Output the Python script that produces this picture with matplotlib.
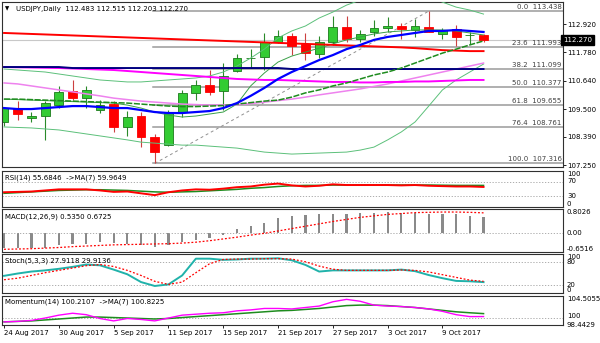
import matplotlib
matplotlib.use('Agg')
import matplotlib.pyplot as plt
import numpy as np

plt.rcParams.update({'font.family': 'DejaVu Sans', 'font.size': 5})

# --- USDJPY daily candles ---
opens = [108.98, 109.54, 109.14, 109.22, 109.66, 110.23, 109.94, 109.46, 109.70, 108.78,
         109.22, 108.38, 108.05, 109.38, 110.15, 110.47, 110.23, 111.03, 111.55, 111.59,
         112.20, 112.44, 112.12, 111.71, 112.20, 112.80, 112.32, 112.60, 112.76, 112.84,
         112.68, 112.80, 112.52, 112.72, 112.46, 112.483]
highs = [109.60, 109.82, 109.38, 109.82, 110.43, 110.67, 110.43, 109.86, 109.82, 109.42,
         109.38, 108.50, 109.46, 110.27, 110.67, 111.07, 111.35, 111.71, 111.91, 112.56,
         112.68, 112.56, 112.56, 112.44, 113.24, 113.24, 112.68, 113.08, 113.20, 112.96,
         113.12, 113.438, 112.76, 112.88, 112.60, 112.515]
lows = [108.82, 109.06, 108.98, 108.26, 109.54, 109.86, 109.54, 109.34, 108.58, 108.42,
        107.97, 107.316, 108.01, 109.18, 109.86, 110.07, 109.46, 110.99, 111.15, 111.07,
        112.16, 111.67, 111.47, 111.55, 112.08, 112.20, 112.20, 112.44, 112.60, 112.32,
        112.40, 112.58, 112.32, 112.04, 112.12, 112.203]
closes = [109.54, 109.30, 109.22, 109.74, 110.19, 109.94, 110.27, 109.66, 108.78, 109.18,
          108.38, 107.77, 109.34, 110.15, 110.47, 110.19, 110.83, 111.55, 111.57, 112.20,
          112.44, 112.04, 111.75, 112.20, 112.80, 112.32, 112.52, 112.76, 112.84, 112.72,
          112.84, 112.60, 112.68, 112.40, 112.48, 112.270]

date_ticks = [0, 4, 8, 12, 16, 20, 24, 28, 32]
date_labels = ['24 Aug 2017', '30 Aug 2017', '5 Sep 2017', '11 Sep 2017', '15 Sep 2017',
               '21 Sep 2017', '27 Sep 2017', '3 Oct 2017', '9 Oct 2017']

# --- overlays on price ---
ma_blue = [109.54, 109.50, 109.50, 109.54, 109.58, 109.62, 109.62, 109.58, 109.54, 109.54,
           109.46, 109.38, 109.34, 109.34, 109.38, 109.42, 109.54, 109.74, 110.03, 110.35,
           110.71, 110.99, 111.23, 111.47, 111.67, 111.91, 112.08, 112.28, 112.40, 112.48,
           112.56, 112.64, 112.64, 112.68, 112.64, 112.60]
ma_green = [109.90, 109.90, 109.88, 109.86, 109.84, 109.82, 109.80, 109.78, 109.76, 109.74,
            109.70, 109.66, 109.62, 109.60, 109.60, 109.62, 109.64, 109.70, 109.76, 109.82,
            109.86, 109.98, 110.15, 110.27, 110.43, 110.55, 110.71, 110.87, 110.99, 111.15,
            111.35, 111.55, 111.75, 111.91, 112.08, 112.24]
ma_red = [112.56, 112.54, 112.52, 112.50, 112.48, 112.46, 112.44, 112.42, 112.40, 112.38,
          112.36, 112.34, 112.32, 112.30, 112.28, 112.26, 112.24, 112.22, 112.20, 112.18,
          112.16, 112.14, 112.12, 112.10, 112.08, 112.06, 112.04, 112.02, 112.00, 111.98,
          111.95, 111.91, 111.87, 111.85, 111.83, 111.83]
ma_navy = [111.19] * 5 + [111.15] * 16 + [111.11] * 15
ma_magenta = [111.19, 111.18, 111.17, 111.16, 111.15, 111.13, 111.11, 111.09, 111.07, 111.03,
              110.99, 110.95, 110.91, 110.87, 110.83, 110.79, 110.75, 110.71, 110.69, 110.67,
              110.67, 110.65, 110.63, 110.61, 110.59, 110.59, 110.57, 110.57, 110.59, 110.59,
              110.61, 110.61, 110.63, 110.65, 110.67, 110.67]
ma_violet = [110.55, 110.51, 110.43, 110.35, 110.27, 110.19, 110.11, 110.03, 109.94, 109.88,
             109.82, 109.78, 109.74, 109.70, 109.68, 109.66, 109.66, 109.68, 109.72, 109.78,
             109.84, 109.90, 109.98, 110.07, 110.15, 110.23, 110.31, 110.41, 110.51, 110.63,
             110.75, 110.87, 110.99, 111.11, 111.23, 111.35]
bb_upper = [111.11, 111.07, 111.03, 110.99, 110.91, 110.83, 110.75, 110.67, 110.63, 110.59,
            110.59, 110.63, 110.67, 110.71, 110.75, 110.83, 110.99, 111.23, 111.55, 111.91,
            112.36, 112.64, 112.84, 113.16, 113.40, 113.68, 113.88, 114.05, 114.13, 114.13,
            114.09, 114.01, 113.80, 113.60, 113.48, 113.32]
bb_mid = [109.90, 109.88, 109.86, 109.84, 109.82, 109.80, 109.78, 109.76, 109.74, 109.66,
          109.54, 109.38, 109.26, 109.18, 109.22, 109.30, 109.38, 109.70, 110.43, 110.95,
          111.39, 111.63, 111.79, 111.95, 112.12, 112.28, 112.40, 112.52, 112.60, 112.64,
          112.68, 112.68, 112.68, 112.64, 112.56, 112.48]
bb_lower = [108.78, 108.76, 108.74, 108.70, 108.66, 108.58, 108.50, 108.42, 108.34, 108.26,
            108.17, 108.13, 108.09, 108.05, 108.05, 108.01, 107.97, 107.93, 107.85, 107.77,
            107.73, 107.69, 107.71, 107.73, 107.75, 107.77, 107.85, 107.97, 108.26, 108.58,
            108.98, 109.62, 110.27, 110.67, 110.99, 111.31]

# Fibonacci retracement 5 Sep low -> 3 Oct high
fib_pct = ['0.0', '23.6', '38.2', '50.0', '61.8', '76.4', '100.0']
fib_price = [113.438, 111.993, 111.099, 110.377, 109.655, 108.761, 107.316]
fib_low_idx, fib_high_idx = 11, 31

price_ticks = [112.920, 111.780, 110.640, 109.500, 108.390, 107.250]

# --- oscillators ---
rsi = [41, 42, 43, 46, 49, 49, 49, 46, 42, 43, 38, 33, 41, 46, 49, 48, 51, 55, 57, 62,
       65, 60, 57, 59, 63, 61, 61, 61, 61, 60, 61, 59, 58, 57, 57, 55.6846]
rsi_ma = [38, 40, 42, 44, 46, 47, 48, 48, 47, 46, 44, 42, 41, 42, 43, 45, 47, 49, 52, 54,
          57, 59, 60, 60, 61, 61, 61, 61, 61, 61, 61, 61, 60.5, 60, 60, 59.9649]
macd = [-0.50, -0.51, -0.53, -0.51, -0.42, -0.39, -0.37, -0.30, -0.36, -0.39, -0.43, -0.49,
        -0.42, -0.30, -0.23, -0.17, -0.06, 0.11, 0.22, 0.33, 0.50, 0.56, 0.59, 0.62, 0.64,
        0.64, 0.67, 0.67, 0.69, 0.67, 0.67, 0.65, 0.64, 0.62, 0.56, 0.5350]
macd_sig = [-0.56, -0.55, -0.54, -0.52, -0.50, -0.47, -0.45, -0.43, -0.41, -0.40, -0.39,
            -0.38, -0.37, -0.35, -0.32, -0.27, -0.21, -0.15, -0.08, -0.02, 0.06, 0.14, 0.22,
            0.30, 0.38, 0.45, 0.52, 0.57, 0.62, 0.65, 0.68, 0.69, 0.70, 0.70, 0.69, 0.6725]
stoch_k = [44, 50, 55, 58, 62, 67, 73, 71, 60, 48, 28, 18, 22, 45, 88, 88, 85, 86, 88, 88,
           89, 84, 72, 55, 58, 58, 58, 58, 58, 60, 56, 46, 38, 31, 30, 27.9118]
stoch_d = [34, 38, 45, 52, 58, 64, 70, 73, 68, 58, 45, 30, 22, 28, 52, 75, 86, 87, 87, 88,
           88, 87, 80, 69, 61, 58, 58, 58, 58, 59, 58, 54, 47, 40, 33, 29.9136]
mom = [99.1, 99.2, 99.4, 99.9, 100.5, 100.9, 100.6, 99.8, 99.3, 99.8, 99.6, 99.3, 99.9,
       100.5, 100.7, 100.9, 101.0, 101.4, 101.6, 101.9, 101.9, 101.8, 102.1, 102.4, 103.3,
       103.8, 103.4, 102.6, 102.4, 102.3, 102.1, 101.8, 101.3, 100.6, 100.2, 100.2107]
mom_ma = [99.1, 99.2, 99.3, 99.5, 99.7, 99.9, 100.1, 100.1, 100.0, 99.9, 99.8, 99.7, 99.8,
          100.0, 100.2, 100.4, 100.6, 100.8, 101.0, 101.2, 101.4, 101.5, 101.7, 101.9, 102.2,
          102.5, 102.6, 102.6, 102.5, 102.3, 102.1, 101.8, 101.5, 101.2, 101.0, 100.8225]

W, H = 600, 343
fig = plt.figure(figsize=(6, 3.43), dpi=100)
fig.patch.set_facecolor('white')


def panel(top, bottom):
    ax = fig.add_axes([2 / W, 1 - bottom / H, 561 / W, (bottom - top) / H])
    ax.set_xlim(-0.15, 40.8)
    for s in ax.spines.values():
        s.set_linewidth(0.8)
        s.set_color('#303030')
    ax.tick_params(left=False, labelleft=False, bottom=False, labelbottom=False,
                   right=False, labelright=False)
    return ax


def side_label(ax, y, txt, va='center'):
    ax.text(1.007, y, txt, transform=ax.get_yaxis_transform(), ha='left', va=va,
            fontsize=5, clip_on=False)


def caption(ax, txt):
    ax.text(0.006, 0.9, txt, transform=ax.transAxes, ha='left', va='top', fontsize=5)


x = np.arange(len(closes))

# ---------------- price panel ----------------
ax = panel(2, 167)
ax.set_ylim(107.17, 113.805)

for p in fib_price:
    ax.plot([fib_low_idx - 0.1, 40.8], [p, p], color='#9a9a9a', lw=1.1, zorder=1)
for pct, p in zip(fib_pct, fib_price):
    ax.text(40.7, p + 0.04, f'{pct}  {p:.3f}', ha='right', va='bottom', fontsize=5,
            color='#404040', zorder=2)
ax.plot([fib_low_idx, fib_high_idx], [fib_price[-1], fib_price[0]], color='#909090',
        lw=0.7, ls=(0, (3, 3)), zorder=1)
ax.axhline(closes[-1], color='#c8c8c8', lw=0.8, zorder=1)

for i, (o, h, l, c) in enumerate(zip(opens, highs, lows, closes)):
    up = c >= o
    ax.vlines(i, l, h, color='#2a8a2a' if up else '#cc4040', lw=0.8, zorder=2)
    ax.bar(i, max(abs(c - o), 0.012), bottom=min(o, c), width=0.64,
           color='#33cc33' if up else '#ff0000',
           edgecolor='#1b7a1b' if up else '#ff0000', lw=0.6, zorder=2.5)

ax.plot(x, bb_upper, color='#5cc07a', lw=0.7, zorder=3)
ax.plot(x, bb_lower, color='#5cc07a', lw=0.7, zorder=3)
ax.plot(x, bb_mid, color='#3aa048', lw=0.7, zorder=3)
ax.plot(x, ma_violet, color='#ee82ee', lw=1.1, zorder=3)
ax.plot(x, ma_magenta, color='#ff00ff', lw=1.4, zorder=3)
ax.plot(x, ma_navy, color='#000080', lw=1.4, zorder=3)
ax.plot(x, ma_red, color='#ff0000', lw=1.4, zorder=3)
ax.plot(x, ma_green, color='#1e8c1e', lw=1.1, ls=(0, (4, 1)), zorder=3)
ax.plot(x, ma_blue, color='#0000ff', lw=1.6, zorder=3)

ax.tick_params(right=True, labelright=True, length=2, width=0.6, pad=1, labelsize=5)
ax.set_yticks(price_ticks)
ax.set_yticklabels([f'{t:.3f}' for t in price_ticks])
ax.text(1.0, closes[-1], f'{closes[-1]:.3f}', transform=ax.get_yaxis_transform(),
        ha='left', va='center', fontsize=5, color='white', clip_on=False, zorder=6,
        bbox=dict(boxstyle='square,pad=0.25', fc='black', ec='black'))
ax.text(0.006, 0.975, '\u25bc', transform=ax.transAxes, ha='left', va='top', fontsize=4)
ax.text(0.025, 0.978, f'USDJPY,Daily  {opens[-1]:.3f} {highs[-1]:.3f} {lows[-1]:.3f} '
        f'{closes[-1]:.3f}', transform=ax.transAxes, ha='left', va='top', fontsize=5)

# ---------------- RSI ----------------
ax = panel(171, 207)
ax.set_ylim(0, 100)
for lvl in (70, 30):
    ax.axhline(lvl, color='#a0a0a0', lw=0.6, ls=(0, (1.5, 2)))
ax.plot(x, rsi_ma, color='#1e8c1e', lw=1.1)
ax.plot(x, rsi, color='#ff0000', lw=1.4)
caption(ax, f'RSI(14) {rsi[-1]:.4f}  ->MA(7) {rsi_ma[-1]:.4f}')
side_label(ax, 100, '100', va='top')
side_label(ax, 72, '70')
side_label(ax, 30, '30')
side_label(ax, 0, '0', va='bottom')

# ---------------- MACD ----------------
ax = panel(209, 252)
ax.set_ylim(-0.6516, 0.8026)
ax.axhline(0, color='#a0a0a0', lw=0.6, ls=(0, (1.5, 2)))
ax.bar(x, macd, width=0.16, color='#8a8a8a')
ax.plot(x, macd_sig, color='#ff0000', lw=0.9, ls=(0, (1.5, 1.5)))
caption(ax, f'MACD(12,26,9) {macd[-1]:.4f} {macd_sig[-1]:.4f}')
side_label(ax, 0.8026, '0.8026', va='top')
side_label(ax, 0, '0.00')
side_label(ax, -0.6516, '-0.6516', va='bottom')

# ---------------- Stochastic ----------------
ax = panel(254, 293)
ax.set_ylim(0, 100)
for lvl in (80, 20):
    ax.axhline(lvl, color='#a0a0a0', lw=0.6, ls=(0, (1.5, 2)))
ax.plot(x, stoch_k, color='#20b2aa', lw=1.4)
ax.plot(x, stoch_d, color='#ff0000', lw=0.9, ls=(0, (1.5, 1.5)))
caption(ax, f'Stoch(5,3,3) {stoch_k[-1]:.4f} {stoch_d[-1]:.4f}')
side_label(ax, 100, '100', va='top')
side_label(ax, 80, '80')
side_label(ax, 20, '20')
side_label(ax, 0, '0', va='bottom')

# ---------------- Momentum ----------------
ax = panel(296, 325)
ax.set_ylim(98.4429, 104.5055)
ax.axhline(100, color='#a0a0a0', lw=0.6, ls=(0, (1.5, 2)))
ax.plot(x, mom_ma, color='#1e8c1e', lw=1.1)
ax.plot(x, mom, color='#ff00ff', lw=1.0)
caption(ax, f'Momentum(14) {mom[-1]:.4f}  ->MA(7) {mom_ma[-1]:.4f}')
side_label(ax, 104.5055, '104.5055', va='top')
side_label(ax, 100.35, '100')
side_label(ax, 98.4429, '98.4429', va='center')
ax.set_xticks(date_ticks)
ax.set_xticklabels(date_labels, ha='left')
ax.tick_params(bottom=True, labelbottom=True, length=2, width=0.6, pad=1.5, labelsize=5)

fig.savefig('out.png', dpi=100, facecolor='white')
